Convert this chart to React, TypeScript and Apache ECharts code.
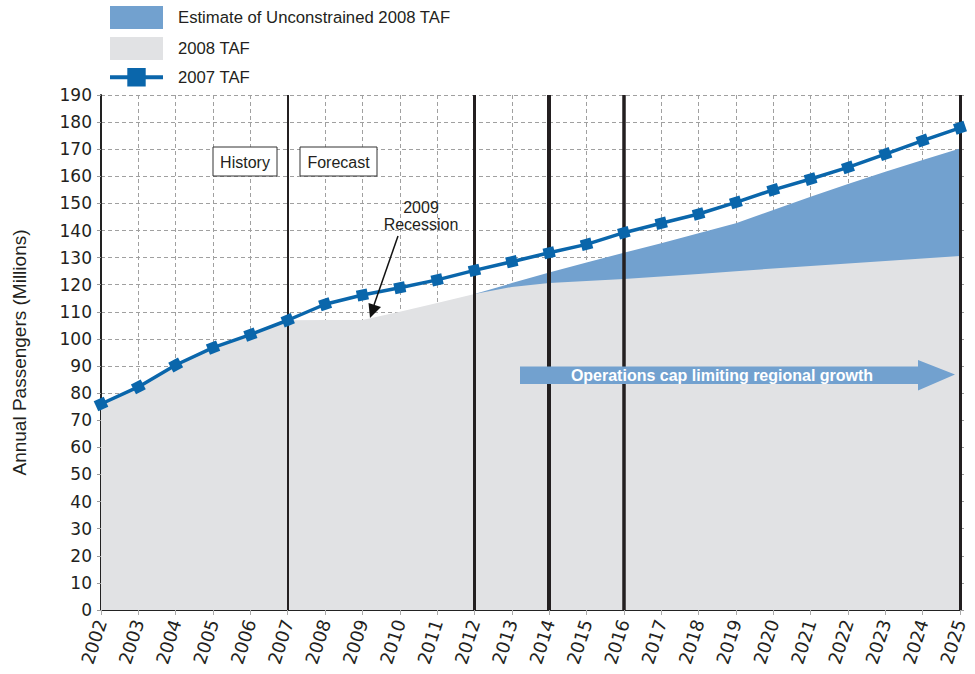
import React, { useEffect, useRef } from "react";
import * as echarts from "echarts";

const years = ["2002","2003","2004","2005","2006","2007","2008","2009","2010","2011","2012","2013","2014","2015","2016","2017","2018","2019","2020","2021","2022","2023","2024","2025"];
const taf2007 = [76.0,82.3,90.4,96.8,101.6,106.9,112.8,116.2,118.9,121.8,125.3,128.5,131.8,134.9,139.2,142.7,146.1,150.4,155.0,159.0,163.3,168.2,173.2,177.9];
const taf2008 = [76.0,82.3,90.4,96.8,101.6,106.9,107.0,107.0,110.0,113.3,116.6,119.2,120.6,121.4,122.1,123.0,124.0,125.0,126.0,126.9,127.8,128.8,129.7,130.6];
const unconstrained = [null,null,null,null,null,null,null,null,null,null,116.6,120.6,124.5,128.2,131.8,135.3,139.0,142.7,147.6,152.5,157.2,161.7,166.0,170.3];
const dividerYears = ["2007","2012","2014","2016","2025"];
const dividerWidths = [2, 3, 4, 3.5, 3];
const yTicks = { min: 0, max: 190, interval: 10 };

const BLUE_AREA = "#72a1cf";
const GRAY_AREA = "#e1e2e4";
const LINE_BLUE = "#0a66ab";
const TEXT = "#231f20";
const FONT = "'Liberation Sans', Arial, sans-serif";
const NUMFONT = "'DejaVu Sans', 'Liberation Sans', sans-serif";

export default function App() {
  const ref = useRef<HTMLDivElement>(null);
  useEffect(() => {
    if (!ref.current) return;
    const chart = echarts.init(ref.current, null, { renderer: "svg" });
    const pxPerYear = 37.35;
    const pxPerUnit = 2.71;
    const rot = (i: number) => {
      const a = taf2007[Math.max(0, i - 1)];
      const b = taf2007[Math.min(taf2007.length - 1, i + 1)];
      const span = Math.min(taf2007.length - 1, i + 1) - Math.max(0, i - 1);
      return (Math.atan2((b - a) * pxPerUnit, span * pxPerYear) * 180) / Math.PI;
    };
    chart.setOption({
      animation: false,
      backgroundColor: "#ffffff",
      grid: { left: 101, right: 15, top: 95, bottom: 64, containLabel: false },
      legend: {
        left: 108,
        top: 6,
        padding: 0,
        orient: "vertical",
        itemWidth: 53,
        itemHeight: 23,
        itemGap: 8,
        selectedMode: false,
        textStyle: { fontFamily: FONT, fontSize: 16.7, color: TEXT, padding: [0, 0, 0, 10] },
        data: [
          { name: "Estimate of Unconstrained 2008 TAF", icon: "rect", itemStyle: { color: BLUE_AREA } },
          { name: "2008 TAF", icon: "rect", itemStyle: { color: GRAY_AREA } },
          { name: "2007 TAF", lineStyle: { width: 4, color: LINE_BLUE } },
        ],
      },
      xAxis: {
        type: "category",
        data: years,
        boundaryGap: false,
        axisLine: { show: true, lineStyle: { color: "#222", width: 2 } },
        axisTick: { show: true, length: 5, lineStyle: { color: "#aaa", width: 1 } },
        axisLabel: { rotate: 72, fontFamily: NUMFONT, fontSize: 18, color: TEXT, margin: 10 },
        splitLine: { show: true, lineStyle: { color: "#a0a0a0", type: [4, 3], width: 1 } },
      },
      yAxis: [
        {
          type: "value",
          min: yTicks.min,
          max: yTicks.max,
          interval: yTicks.interval,
          name: "Annual Passengers (Millions)",
          nameLocation: "middle",
          nameGap: 72,
          nameTextStyle: { fontFamily: FONT, fontSize: 19, color: TEXT },
          axisLine: { show: true, lineStyle: { color: "#222", width: 2 } },
          axisTick: { show: true, length: 4, lineStyle: { color: "#999" } },
          axisLabel: { fontFamily: NUMFONT, fontSize: 17, color: TEXT, margin: 9 },
          splitLine: { show: true, lineStyle: { color: "#a0a0a0", type: [4, 3], width: 1 } },
        },
        {
          type: "value",
          min: yTicks.min,
          max: yTicks.max,
          interval: yTicks.interval,
          position: "right",
          axisLine: { show: false },
          axisTick: { show: true, length: 4, lineStyle: { color: "#999" } },
          axisLabel: { show: false },
          splitLine: { show: false },
        },
      ],
      series: [
        {
          name: "Estimate of Unconstrained 2008 TAF",
          type: "line",
          data: unconstrained,
          symbol: "none",
          z: 2,
          itemStyle: { color: BLUE_AREA },
          lineStyle: { width: 0, color: BLUE_AREA },
          areaStyle: { color: BLUE_AREA, opacity: 1 },
        },
        {
          name: "2008 TAF",
          type: "line",
          data: taf2008,
          symbol: "none",
          z: 2,
          itemStyle: { color: GRAY_AREA },
          lineStyle: { width: 0, color: GRAY_AREA },
          areaStyle: { color: GRAY_AREA, opacity: 1 },
        },
        {
          name: "dividers",
          type: "line",
          data: taf2008,
          symbol: "none",
          z: 3,
          lineStyle: { opacity: 0 },
          markLine: {
            silent: true,
            symbol: ["none", "none"],
            label: { show: false },
            data: dividerYears.map((y, i) => ({
              xAxis: y,
              lineStyle: { color: "#231f20", width: dividerWidths[i], type: "solid" },
            })),
          },
        },
        {
          name: "2007 TAF",
          type: "line",
          data: taf2007.map((v, i) => ({ value: v, symbolRotate: rot(i) })),
          symbol: "rect",
          symbolSize: 11,
          z: 5,
          itemStyle: { color: LINE_BLUE },
          lineStyle: { color: LINE_BLUE, width: 3.5 },
        },
      ],
      graphic: [
        {
          type: "rect",
          shape: { x: 213, y: 147, width: 64, height: 29 },
          style: { fill: "#fff", stroke: "#333", lineWidth: 1 },
          z: 10,
        },
        {
          type: "text",
          x: 245,
          y: 162,
          style: { text: "History", fontFamily: FONT, fontSize: 16, fill: TEXT, align: "center", verticalAlign: "middle" },
          z: 11,
        },
        {
          type: "rect",
          shape: { x: 300, y: 147, width: 77, height: 29 },
          style: { fill: "#fff", stroke: "#333", lineWidth: 1 },
          z: 10,
        },
        {
          type: "text",
          x: 338.5,
          y: 162,
          style: { text: "Forecast", fontFamily: FONT, fontSize: 16, fill: TEXT, align: "center", verticalAlign: "middle" },
          z: 11,
        },
        {
          type: "text",
          x: 421,
          y: 207,
          style: { text: "2009", fontFamily: FONT, fontSize: 16, fill: TEXT, align: "center", verticalAlign: "middle" },
          z: 11,
        },
        {
          type: "text",
          x: 421,
          y: 224,
          style: { text: "Recession", fontFamily: FONT, fontSize: 16, fill: TEXT, align: "center", verticalAlign: "middle" },
          z: 11,
        },
        {
          type: "line",
          shape: { x1: 398, y1: 236, x2: 374, y2: 305 },
          style: { stroke: "#111", lineWidth: 1.5 },
          z: 11,
        },
        {
          type: "polygon",
          shape: { points: [[370, 318], [368.5, 303], [381, 307]] },
          style: { fill: "#111" },
          z: 11,
        },
        {
          type: "polygon",
          shape: { points: [[520, 366.5], [918, 366.5], [918, 360], [955, 374.5], [918, 390.5], [918, 384], [520, 384]] },
          style: { fill: BLUE_AREA },
          z: 10,
        },
        {
          type: "text",
          x: 722,
          y: 375.5,
          style: { text: "Operations cap limiting regional growth", fontFamily: FONT, fontSize: 16, fontWeight: "bold", fill: "#ffffff", align: "center", verticalAlign: "middle" },
          z: 11,
        },
      ],
    });
    return () => chart.dispose();
  }, []);
  return <div ref={ref} style={{ width: 975, height: 674, position: "absolute", left: 0, top: 0 }} />;
}
